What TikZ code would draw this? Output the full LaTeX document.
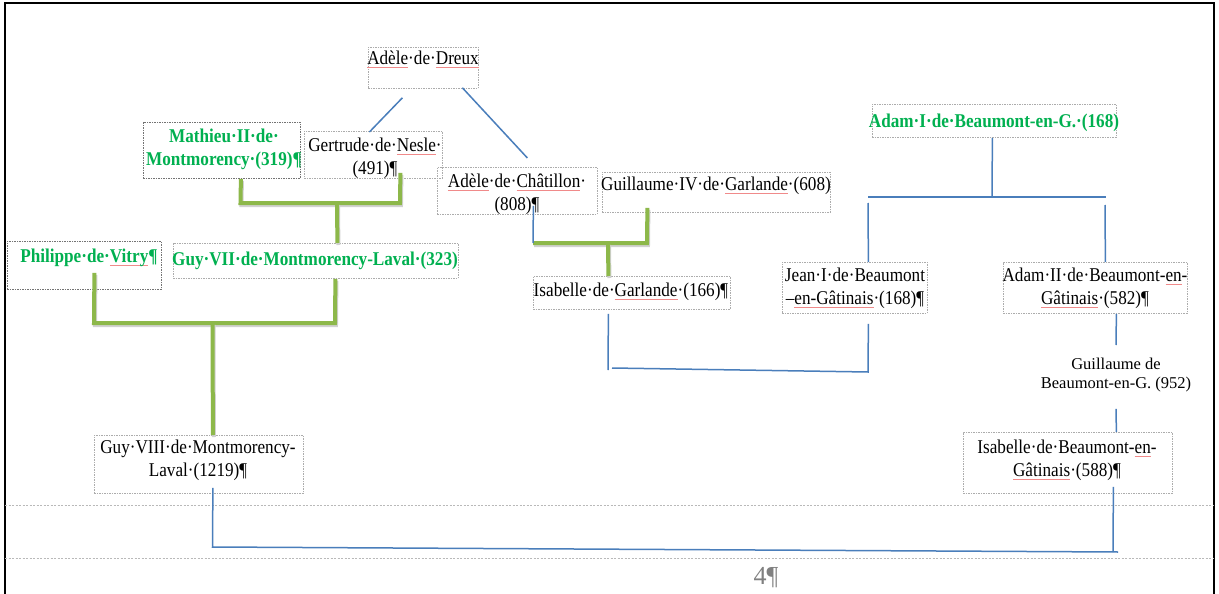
\documentclass[tikz,border=0pt]{standalone}
\usepackage{fontspec}
\setmainfont{Liberation Serif}[FakeStretch=0.88]
\newfontfamily\plainfont{Liberation Serif}
\definecolor{wgreen}{HTML}{00B050}
\definecolor{lgreen}{HTML}{8DB84A}
\definecolor{lblue}{HTML}{4A7EBB}
\definecolor{sqred}{HTML}{F08A8A}
\newsavebox\sqbox
\newcommand\sq[1]{\sbox\sqbox{#1}\rlap{\textcolor{sqred}{\rule[-3pt]{\wd\sqbox}{0.6pt}}}\usebox\sqbox}
\tikzset{
  box/.style={draw=gray!65, dash pattern=on 1.5pt off 1pt, line width=0.8pt, inner sep=0pt, anchor=north west},
  darkbox/.style={box, draw=gray!90!black},
  txt/.style={font=\fontsize{19.5}{22.5}\selectfont, align=center, inner sep=0pt, anchor=north},
  gtxt/.style={txt, font=\fontsize{19.5}{22.5}\selectfont\bfseries, text=wgreen},
  bl/.style={draw=lblue, line width=1.5pt},
  gl/.style={draw=lgreen, line width=4pt,
    preaction={draw=black!18, line width=4pt, transform canvas={xshift=1pt, yshift=-2pt}}},
}
\begin{document}
\begin{tikzpicture}[x=1pt, y=-1pt]
\useasboundingbox (0,0) rectangle (1219,594);
\fill[white] (0,0) rectangle (1219,594);
% page frame and margins
\draw[line width=2pt] (5,594) -- (5,3) -- (1214,3) -- (1214,594);
\draw[gray!55, dash pattern=on 2pt off 1.5pt, line width=0.8pt] (5,505) -- (1214,505);
\draw[gray!55, dash pattern=on 2pt off 1.5pt, line width=0.8pt] (5,558) -- (1214,558);
\node[font=\plainfont\fontsize{26}{26}\selectfont, text=gray, inner sep=0pt] (pageno) at (766,578) {4¶};

% boxes
\node[box, minimum width=110pt, minimum height=41pt] (dreux) at (368,47) {};
\node[darkbox, minimum width=157pt, minimum height=56pt] (mathieu) at (143,122) {};
\node[box, minimum width=138pt, minimum height=47pt] (gertrude) at (304,131) {};
\node[box, minimum width=160pt, minimum height=47pt] (chatillon) at (437,167) {};
\node[box, minimum width=228pt, minimum height=40pt] (guil4) at (602,172) {};
\node[box, minimum width=244pt, minimum height=33pt] (adam1) at (872,104) {};
\node[darkbox, minimum width=154pt, minimum height=48pt] (philippe) at (7,241) {};
\node[box, minimum width=285pt, minimum height=35pt] (guy7) at (173,243) {};
\node[box, minimum width=197pt, minimum height=33pt] (isag) at (533,276) {};
\node[box, minimum width=145pt, minimum height=51pt] (jean) at (782,262) {};
\node[box, minimum width=184pt, minimum height=51pt] (adam2) at (1003,262) {};
\node[box, minimum width=209pt, minimum height=58pt] (guy8) at (94,435) {};
\node[box, minimum width=209pt, minimum height=61pt] (isab) at (963,432) {};

% texts
\node[txt] (dreux-t) at (423,51) {\sq{Adèle}·de·\sq{Dreux}};
\node[gtxt] (mathieu-t) at (224,129) {Mathieu·II·de·\\Montmorency·(319)¶};
\node[txt] (gertrude-t) at (375,138) {Gertrude·de·\sq{Nesle}·\\(491)¶};
\node[txt] (chatillon-t) at (517,174) {\sq{Adèle}·de·\sq{Châtillon}·\\(808)¶};
\node[txt] (guil4-t) at (716,177) {Guillaume·IV·de·\sq{Garlande}·(608)};
\node[gtxt] (adam1-t) at (994,114) {Adam·I·de·Beaumont-en-G.·(168)};
\node[gtxt] (philippe-t) at (89,249) {Philippe·de·\sq{Vitry}¶};
\node[gtxt] (guy7-t) at (315,252) {Guy·VII·de·Montmorency-Laval·(323)};
\node[txt] (isag-t) at (631,283) {Isabelle·de·\sq{Garlande}·(166)¶};
\node[txt] (jean-t) at (855,268) {Jean·I·de·Beaumont\\–\sq{en-Gâtinais}·(168)¶};
\node[txt] (adam2-t) at (1095,268) {Adam·II·de·Beaumont-\sq{en}-\\\sq{Gâtinais}·(582)¶};
\node[txt, font=\plainfont\fontsize{16.5}{18.5}\selectfont] (guilB) at (1116,358) {Guillaume de\\Beaumont-en-G. (952)};
\node[txt] (guy8-t) at (198,440) {Guy·VIII·de·Montmorency-\\Laval·(1219)¶};
\node[txt] (isab-t) at (1067,440) {Isabelle·de·Beaumont-\sq{en}-\\\sq{Gâtinais}·(588)¶};

% junction coordinates
\coordinate (jC) at (533,243);
\coordinate (jG4) at (647,243);
\coordinate (jG) at (608,243);
\coordinate (jM) at (240.5,203);
\coordinate (jN) at (400,203);
\coordinate (jMG) at (337,203);
\coordinate (jP) at (94,323);
\coordinate (jV) at (335,323);
\coordinate (jPV) at (212.5,323);
\coordinate (jA) at (992,197);
\coordinate (jAL) at (868,197);
\coordinate (jAR) at (1106,197);
\coordinate (jAL2) at (868,203);
\coordinate (jAR2) at (1105,205);
\coordinate (jI) at (608,370);
\coordinate (jI2) at (612,368);
\coordinate (jJ) at (868,372);
\coordinate (jB1) at (212.5,547);
\coordinate (jB2) at (1118,552);
\coordinate (jB3) at (1113,552);

% green connectors
\draw[gl] ([xshift=19pt]mathieu.south) -- (jM) -- (jN) -- ([shift={(27,-6)}]gertrude.south);
\draw[gl] (jMG) -- ([xshift=21.5pt]guy7.north);
\draw[gl] ([shift={(10,-17)}]philippe.south) -- (jP) -- (jV) -- ([xshift=19.5pt]guy7.south);
\draw[gl] (jPV) -- ([xshift=14pt]guy8.north);
\draw[gl] (jC) -- (jG4) -- ([shift={(-69,-5)}]guil4.south);
\draw[gl] (jG) -- ([xshift=-23.5pt]isag.north);

% blue connectors
\draw[bl] ([shift={(-21,9)}]dreux.south) -- ([shift={(-4,1)}]gertrude.north);
\draw[bl] ([shift={(39,-1)}]dreux.south) -- ([shift={(10,-9)}]chatillon.north);
\draw[bl] ([shift={(16,-9)}]chatillon.south) -- (jC);
\draw[bl] ([xshift=-2pt]adam1.south) -- (jA);
\draw[bl] (jAL) -- (jAR);
\draw[bl] (jAL2) -- ([xshift=13.5pt]jean.north);
\draw[bl] (jAR2) -- ([xshift=10pt]adam2.north);
\draw[bl] ([shift={(-23.5,4)}]isag.south) -- (jI);
\draw[bl] (jI2) -- (jJ) -- ([shift={(13.5,10)}]jean.south);
\draw[bl] ([xshift=21pt]adam2.south) -- ([shift={(0,-13)}]guilB.north);
\draw[bl] ([shift={(0,17)}]guilB.south) -- ([xshift=48.5pt]isab.north);
\draw[bl] ([shift={(14,-6)}]guy8.south) -- (jB1) -- (jB2);
\draw[bl] ([shift={(45.5,-7)}]isab.south) -- (jB3);
\end{tikzpicture}
\end{document}
